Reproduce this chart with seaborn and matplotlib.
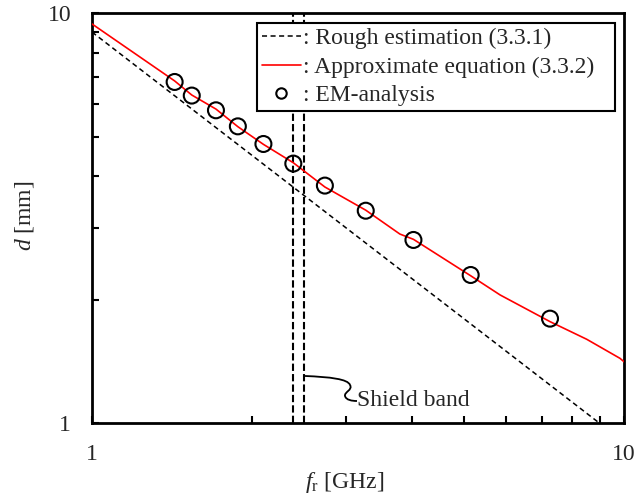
import matplotlib
matplotlib.use("Agg")
import matplotlib.pyplot as plt
import seaborn as sns
import pandas as pd
from matplotlib.path import Path
from matplotlib.patches import PathPatch
from matplotlib.lines import Line2D

# Rough estimation (3.3.1)
f_rough = [1.0, 9.0]
d_rough = [9.0, 1.0]

# Approximate equation (3.3.2)
f_approx = [1.0, 1.43, 1.54, 1.71, 1.88, 2.10, 2.39, 2.74, 3.27, 3.79, 4.02,
            5.15, 5.85, 7.26, 8.51, 9.83, 10.0]
d_approx = [9.42, 6.84, 6.32, 5.84, 5.29, 4.79, 4.32, 3.77, 3.31, 2.895, 2.81,
            2.29, 2.056, 1.77, 1.603, 1.44, 1.413]

# EM-analysis results
f_em = [1.43, 1.54, 1.71, 1.88, 2.10, 2.39, 2.74, 3.27, 4.02, 5.15, 7.26]
d_em = [6.8, 6.3, 5.8, 5.3, 4.8, 4.3, 3.8, 3.3, 2.8, 2.3, 1.8]

# Shield band limits [GHz]
band_edges = [2.39, 2.50]

legend_labels = [": Rough estimation (3.3.1)",
                 ": Approximate equation (3.3.2)",
                 ": EM-analysis"]

sns.set_theme(style="ticks")
plt.rcParams["font.family"] = ["Liberation Serif", "DejaVu Serif"]
plt.rcParams["mathtext.fontset"] = "custom"
plt.rcParams["mathtext.rm"] = "Liberation Serif"
plt.rcParams["mathtext.it"] = "Liberation Serif:italic"

fig = plt.figure(figsize=(6.38, 4.98), dpi=100)
ax = fig.add_axes([92 / 638, (498 - 423.3) / 498, 532 / 638, 410 / 498])

rough_df = pd.DataFrame({"f": f_rough, "d": d_rough})
approx_df = pd.DataFrame({"f": f_approx, "d": d_approx})
em_df = pd.DataFrame({"f": f_em, "d": d_em})

for xb in band_edges:
    ax.axvline(xb, color="black", lw=1.5, dashes=(3.5, 1.5), zorder=1)

sns.lineplot(data=rough_df, x="f", y="d", ax=ax, color="black", lw=1.1,
             estimator=None, sort=False, zorder=2)
ax.lines[-1].set_dashes((3.3, 2.3))
sns.lineplot(data=approx_df, x="f", y="d", ax=ax, color="red", lw=1.2,
             estimator=None, sort=False, zorder=3)
sns.scatterplot(data=em_df, x="f", y="d", ax=ax, marker="o", s=132,
                facecolor="none", edgecolor="black", linewidth=1.5, zorder=4)

ax.set_xscale("log")
ax.set_yscale("log")
ax.set_xlim(1, 10)
ax.set_ylim(1, 10)

ax.set_xticks([1, 10])
ax.set_xticklabels(["1", "10"])
ax.set_yticks([1, 10])
ax.set_yticklabels(["1", "10"])
ax.set_xticks([2, 3, 4, 5, 6, 7, 8, 9], minor=True)
ax.set_yticks([2, 3, 4, 5, 6, 7, 8, 9], minor=True)
ax.tick_params(which="both", direction="in", color="black", width=1.5,
               top=False, right=False)
ax.tick_params(which="major", length=5, labelsize=17, pad=15)
ax.tick_params(which="minor", length=5, labelbottom=False, labelleft=False)

for s in ax.spines.values():
    s.set_linewidth(2.0)
    s.set_color("black")
    s.set_visible(True)
ax.set_facecolor("white")
ax.grid(False)

ax.set_xlabel(r"$f_{\mathrm{r}}$ [GHz]", fontsize=17)
ax.xaxis.set_label_coords(0.4756, -0.1456)
ax.xaxis.label.set_va("center")
ax.set_ylabel(r"$d$ [mm]", fontsize=17)
ax.yaxis.set_label_coords(-0.1278, 0.5056)
ax.yaxis.label.set_va("center")

handles = [
    Line2D([], [], color="black", lw=1.1, dashes=(3.3, 2.3)),
    Line2D([], [], color="red", lw=1.2),
    Line2D([], [], color="black", marker="o", ls="none", markersize=7.5,
           markerfacecolor="none", markeredgewidth=1.5),
]
leg_x0 = (257 - 92) / 532
leg_x1 = (615 - 92) / 532
leg_top = (423.3 - 23) / 410
leg = ax.legend(handles, legend_labels, loc="upper left",
                bbox_to_anchor=(leg_x0, leg_top - 0.3, leg_x1 - leg_x0, 0.3),
                mode="expand", borderaxespad=0,
                fontsize=17, frameon=True, fancybox=False, framealpha=1,
                edgecolor="black", handlelength=1.65, handletextpad=0.1,
                borderpad=0.2, labelspacing=0.3)
leg.get_frame().set_linewidth(1.5)
leg.set_zorder(10)

# Leader from the shield band to its caption
verts = [(0.4004, 0.1154), (0.4474, 0.1129), (0.4812, 0.1080), (0.4850, 0.0934),
         (0.4906, 0.0812), (0.4737, 0.0763), (0.4756, 0.0666),
         (0.4774, 0.0568), (0.4887, 0.0544), (0.4981, 0.0544)]
codes = [Path.MOVETO] + [Path.CURVE4] * 9
ax.add_patch(PathPatch(Path(verts, codes), transform=ax.transAxes,
                       fc="none", ec="black", lw=1.3, zorder=5))
ax.text(0.4981, 0.0544, "Shield band", transform=ax.transAxes,
        fontsize=17, ha="left", va="center")

fig.savefig("out.png", dpi=100)
